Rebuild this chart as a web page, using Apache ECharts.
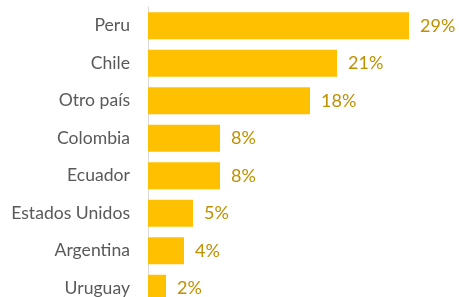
<!DOCTYPE html>
<html><head><meta charset="utf-8">
<script src="https://cdn.jsdelivr.net/npm/echarts@6/dist/echarts.min.js"></script>
<style>html,body{margin:0;padding:0;background:#fff;overflow:hidden}#c{width:459px;height:312px}</style>
</head><body><div id="c"></div>
<script>
var categories = ["Peru", "Chile", "Otro país", "Colombia", "Ecuador", "Estados Unidos", "Argentina", "Uruguay"];
var values = [29, 21, 18, 8, 8, 5, 4, 2];

var chart = echarts.init(document.getElementById('c'), null, {renderer: 'canvas'});
chart.setOption({
  animation: false,
  grid: {left: 148, top: 7, width: 270, height: 300, containLabel: false},
  xAxis: {type: 'value', min: 0, max: 30, show: false},
  yAxis: {
    type: 'category', data: categories, inverse: true,
    axisLine: {show: true, lineStyle: {color: '#D9D9D9', width: 1}},
    axisTick: {show: false},
    axisLabel: {color: '#595959', fontFamily: 'Lato', fontSize: 17.6, margin: 18}
  },
  series: [{
    type: 'bar', data: values, barWidth: 27,
    itemStyle: {color: '#FFC000'},
    label: {show: true, position: 'right', distance: 11, formatter: '{c}%',
      color: '#BF9000', fontFamily: 'Lato', fontSize: 18}
  }]
});
</script></body></html>
